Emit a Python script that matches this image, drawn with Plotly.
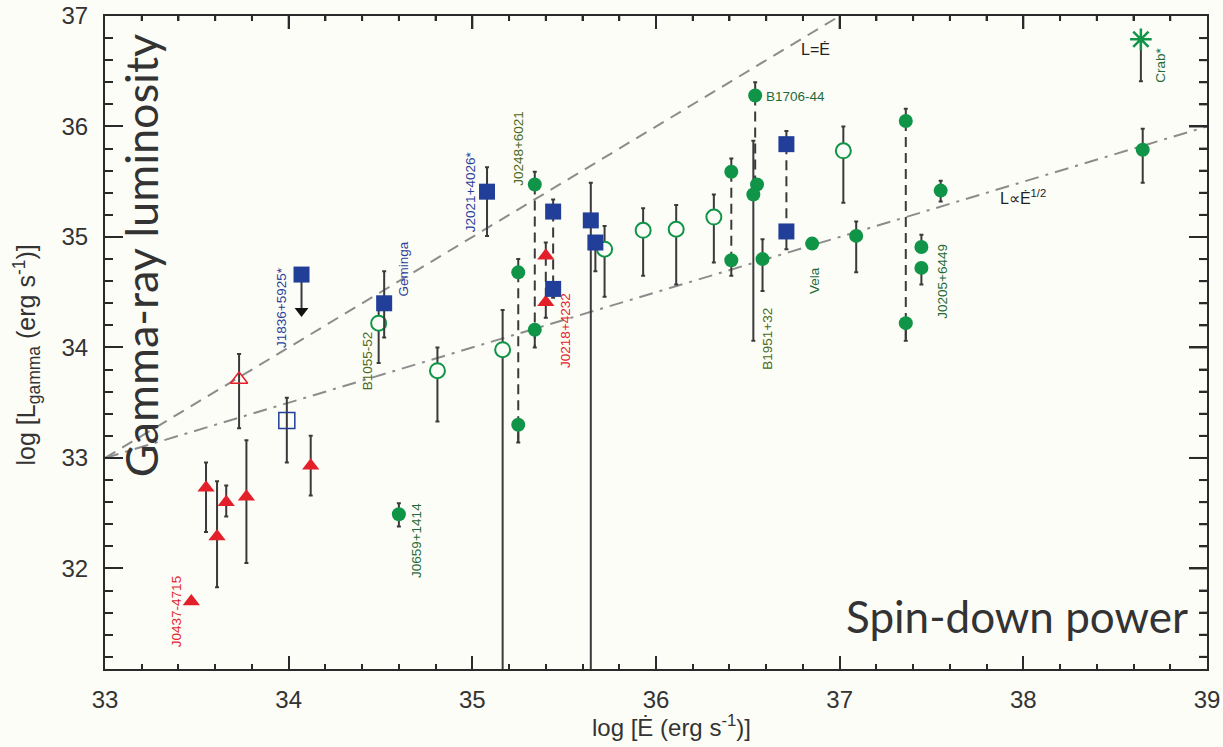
import plotly.graph_objects as go

# ---------------------------------------------------------------------------
# Data: log spin-down power (x), log gamma-ray luminosity (y),
# upper / lower ends of the uncertainty bars (None = no bar drawn)
# ---------------------------------------------------------------------------

# millisecond pulsars (filled red triangles)
msp_x = [33.47, 33.55, 33.61, 33.66, 33.77, 34.12, 35.40, 35.40]
msp_y = [31.70, 32.73, 32.29, 32.60, 32.65, 32.93, 34.83, 34.41]
msp_hi = [None, 32.96, 32.79, 32.75, 33.16, 33.20, 34.95, None]
msp_lo = [None, 32.33, 31.83, 32.47, 32.05, 32.66, None, 34.27]

# millisecond pulsar, open symbol
msp_open_x = [33.73]
msp_open_y = [33.71]
msp_open_hi = [33.94]
msp_open_lo = [33.27]

# radio-quiet pulsars (filled blue squares)
rq_x = [34.52, 35.08, 35.44, 35.44, 35.645, 35.67, 36.71, 36.71]
rq_y = [34.40, 35.41, 35.23, 34.53, 35.15, 34.95, 35.84, 35.05]
rq_hi = [34.69, 35.63, 35.34, None, 35.49, None, 35.96, None]
rq_lo = [34.09, 35.01, None, 34.45, 30.5, 34.69, None, 34.89]

# radio-quiet pulsar, open symbol
rq_open_x = [33.99]
rq_open_y = [33.34]
rq_open_hi = [33.545]
rq_open_lo = [32.96]

# radio-quiet upper limit (J1836+5925)
ul_x = [34.07]
ul_y = [34.66]
ul_to = [34.33]

# radio-loud pulsars (filled green circles)
rl_x = [34.60, 35.25, 35.25, 35.34, 35.34, 36.41, 36.41, 36.54, 36.55,
        36.53, 36.58, 36.85, 37.09, 37.36, 37.36, 37.445, 37.445, 37.55, 38.65]
rl_y = [32.49, 34.68, 33.30, 35.475, 34.16, 35.59, 34.79, 36.28, 35.475,
        35.385, 34.80, 34.94, 35.01, 36.05, 34.22, 34.91, 34.72, 35.42, 35.79]
rl_hi = [32.59, 34.80, None, 35.59, None, 35.71, None, 36.40, None,
         35.87, 34.98, None, 35.14, 36.16, None, 35.02, None, 35.51, 35.98]
rl_lo = [32.38, None, 33.14, None, 34.00, None, 34.65, None, None,
         34.06, 34.51, None, 34.68, None, 34.06, None, 34.57, 35.32, 35.49]

# radio-loud pulsars, open symbols
rl_open_x = [34.49, 34.81, 35.165, 35.72, 35.93, 36.11, 36.315, 37.02]
rl_open_y = [34.22, 33.79, 33.98, 34.89, 35.06, 35.07, 35.18, 35.78]
rl_open_hi = [34.45, 34.00, 34.34, 35.10, 35.26, 35.29, 35.385, 36.00]
rl_open_lo = [33.86, 33.33, 30.50, 34.46, 34.65, 34.57, 34.77, 35.31]

# Crab (pulsed + nebula), star symbol
crab_x = [38.64]
crab_y = [36.79]
crab_lo = [36.41]

# pairs of estimates for the same pulsar, joined by dashed lines
pair_x = [35.25, 35.34, 35.40, 35.44, 36.41, 36.54, 36.71, 37.36]
pair_top = [34.68, 35.475, 34.83, 35.23, 35.59, 36.28, 35.84, 36.05]
pair_bottom = [33.14, 34.00, 34.41, 34.53, 34.79, 35.40, 35.05, 34.06]

# reference relations
leq_x = [33.0, 37.0]          # L = Edot
leq_y = [33.0, 37.0]
lhalf_x = [33.0, 39.0]        # L ~ Edot^(1/2)
lhalf_y = [33.0, 36.0]

# pulsar names
label_text = ["J0437-4715", "J1836+5925*", "Geminga", "B1055-52", "J0659+1414",
              "J2021+4026*", "J0248+6021", "J0218+4232", "B1706-44", "B1951+32",
              "Vela", "J0205+6449", "Crab*"]
label_kind = ["msp", "rq", "rq", "rl2", "rl", "rq", "rl2", "msp", "rl", "rl2",
              "rl", "rl", "rl"]

# ---------------------------------------------------------------------------
# Styling
# ---------------------------------------------------------------------------
BG = "#fdfdf8"
RED = "#e3202a"
BLUE = "#213e98"
GREEN = "#109447"
BAR = "#3a3a3a"
AX = "#2a2a2a"
TXT = "#333333"
kind_color = {"msp": "#e3242b", "rq": "#2b3f9a", "rl": "#1f6b37", "rl2": "#4a6a20"}

W, H = 1223, 747
M_L, M_R, M_T, M_B = 105, 16, 16, 78
X_RANGE = [33, 39]
Y_RANGE = [31.09, 37]
MINOR_STEP = 0.2
X_MAJOR_LEN, Y_MAJOR_LEN = 13, 18    # px
X_MINOR_LEN, Y_MINOR_LEN = 5, 8      # px
TICK_W = 2

# label anchor positions in data units and rotation
label_pos = [(33.39, 31.61), (33.96, 34.36), (34.62, 34.71), (34.43, 33.88),
             (34.70, 32.25), (34.99, 35.41), (35.25, 35.80), (35.51, 34.15),
             (36.76, 36.27), (36.61, 34.08), (36.86, 34.61), (37.56, 34.60),
             (38.75, 36.55)]
label_angle = [-90, -90, -90, -90, -90, -90, -90, -90, 0, -90, -90, -90, -90]


def bars(y, hi, lo):
    plus = [(h - v) if h is not None else 0.0 for v, h in zip(y, hi)]
    minus = [(v - l) if l is not None else 0.0 for v, l in zip(y, lo)]
    return dict(type="data", symmetric=False, array=plus, arrayminus=minus,
                color=BAR, thickness=2, width=2)


fig = go.Figure()

# reference relations
fig.add_trace(go.Scatter(x=leq_x, y=leq_y, mode="lines",
                         line=dict(color="#8c8c8c", width=2, dash="12px,8px"),
                         hoverinfo="skip"))
fig.add_trace(go.Scatter(x=lhalf_x, y=lhalf_y, mode="lines",
                         line=dict(color="#8c8c8c", width=2, dash="14px,7px,3px,7px"),
                         hoverinfo="skip"))

# dashed connectors between paired estimates
cx, cy = [], []
for x, t, b in zip(pair_x, pair_top, pair_bottom):
    cx += [x, x, None]
    cy += [t, b, None]
fig.add_trace(go.Scatter(x=cx, y=cy, mode="lines",
                         line=dict(color=BAR, width=2, dash="10px,6px"),
                         hoverinfo="skip"))

# upper limit line + arrow head
fig.add_trace(go.Scatter(x=ul_x * 2, y=ul_y + ul_to, mode="lines",
                         line=dict(color=BAR, width=2), hoverinfo="skip"))
fig.add_trace(go.Scatter(x=ul_x, y=ul_to, mode="markers",
                         marker=dict(symbol="triangle-down", size=12, color="#111111"),
                         hoverinfo="skip"))

# Crab: star with downward bar
fig.add_trace(go.Scatter(x=crab_x, y=crab_y, mode="markers",
                         error_y=dict(type="data", symmetric=False, array=[0],
                                      arrayminus=[c - l for c, l in zip(crab_y, crab_lo)],
                                      color=BAR, thickness=2, width=2),
                         marker=dict(symbol="asterisk-open", size=18, color=GREEN,
                                     line=dict(color=GREEN, width=2.5))))

# open symbols
fig.add_trace(go.Scatter(x=rl_open_x, y=rl_open_y, mode="markers",
                         error_y=bars(rl_open_y, rl_open_hi, rl_open_lo),
                         marker=dict(symbol="circle", size=15, color=BG,
                                     line=dict(color=GREEN, width=2))))
fig.add_trace(go.Scatter(x=msp_open_x, y=msp_open_y, mode="markers",
                         error_y=bars(msp_open_y, msp_open_hi, msp_open_lo),
                         marker=dict(symbol="triangle-up-open", size=15, color=RED,
                                     line=dict(color=RED, width=1.5))))
fig.add_trace(go.Scatter(x=rq_open_x, y=rq_open_y, mode="markers",
                         error_y=bars(rq_open_y, rq_open_hi, rq_open_lo),
                         marker=dict(symbol="square-open", size=16, color=BLUE,
                                     line=dict(color=BLUE, width=1.5))))

# filled symbols
fig.add_trace(go.Scatter(x=rl_x, y=rl_y, mode="markers",
                         error_y=bars(rl_y, rl_hi, rl_lo),
                         marker=dict(symbol="circle", size=14, color=GREEN,
                                     line=dict(width=0))))
fig.add_trace(go.Scatter(x=msp_x, y=msp_y, mode="markers",
                         error_y=bars(msp_y, msp_hi, msp_lo),
                         marker=dict(symbol="triangle-up", size=15, color=RED,
                                     line=dict(width=0))))
fig.add_trace(go.Scatter(x=rq_x + ul_x, y=rq_y + ul_y, mode="markers",
                         error_y=bars(rq_y + ul_y, rq_hi + [None], rq_lo + [None]),
                         marker=dict(symbol="square", size=16, color=BLUE,
                                     line=dict(width=0))))

# tick marks along the top and right frame edges (major every 1, minor every 0.2)
x_per_px = (X_RANGE[1] - X_RANGE[0]) / (W - M_L - M_R)
y_per_px = (Y_RANGE[1] - Y_RANGE[0]) / (H - M_T - M_B)
tx, ty = [], []
n = 1
while X_RANGE[0] + n * MINOR_STEP < X_RANGE[1] - 1e-9:
    v = X_RANGE[0] + n * MINOR_STEP
    ln = X_MAJOR_LEN if n % 5 == 0 else X_MINOR_LEN
    tx += [v, v, None]
    ty += [Y_RANGE[1], Y_RANGE[1] - ln * y_per_px, None]
    n += 1
n = 1
while 31 + n * MINOR_STEP < Y_RANGE[1] - 1e-9:
    v = 31 + n * MINOR_STEP
    ln = Y_MAJOR_LEN if n % 5 == 0 else Y_MINOR_LEN
    if v > Y_RANGE[0]:
        tx += [X_RANGE[1], X_RANGE[1] - ln * x_per_px, None]
        ty += [v, v, None]
    n += 1
fig.add_trace(go.Scatter(x=tx, y=ty, mode="lines",
                         line=dict(color=AX, width=TICK_W), hoverinfo="skip",
                         cliponaxis=False))

annotations = []
for name, kind, (lx, ly), ang in zip(label_text, label_kind, label_pos, label_angle):
    annotations.append(dict(x=lx, y=ly, xref="x", yref="y", text=name,
                            textangle=ang, showarrow=False,
                            font=dict(family="Liberation Sans", size=13.5,
                                      color=kind_color[kind])))

# relation labels
annotations.append(dict(x=36.87, y=36.70, xref="x", yref="y", text="L=Ė",
                        showarrow=False,
                        font=dict(family="Liberation Sans", size=16, color="#222222")))
annotations.append(dict(x=38.0, y=35.36, xref="x", yref="y",
                        text="L∝Ė<sup>1/2</sup>", showarrow=False,
                        font=dict(family="Liberation Sans", size=16, color="#222222")))

# axis titles
annotations.append(dict(x=(671 - M_L) / (W - M_L - M_R), y=-0.088,
                        xref="paper", yref="paper",
                        text="log [Ė (erg s<sup>-1</sup>)]", showarrow=False,
                        xanchor="center", yanchor="middle",
                        font=dict(family="Liberation Sans", size=24, color=TXT)))
annotations.append(dict(x=(26 - M_L) / (W - M_L - M_R),
                        y=1 - (468 - M_T) / (H - M_T - M_B),
                        xref="paper", yref="paper",
                        text="log [L<sub>gamma</sub> (erg s<sup>-1</sup>)]",
                        textangle=-90, showarrow=False,
                        xanchor="center", yanchor="bottom",
                        font=dict(family="Liberation Sans", size=25, color=TXT)))

# large overlay captions
annotations.append(dict(x=33.2, y=32.81, xref="x", yref="y",
                        text="Gamma-ray luminosity", textangle=-90,
                        showarrow=False, yanchor="bottom",
                        font=dict(family="Lato", size=45, color="#333333")))
annotations.append(dict(x=38.906, y=31.57, xref="x", yref="y",
                        text="Spin-down power", xanchor="right",
                        showarrow=False,
                        font=dict(family="Lato", size=44, color="#333333")))

tick_font = dict(family="Liberation Sans", size=24, color=TXT)

fig.update_layout(
    width=W, height=H,
    margin=dict(l=M_L, r=M_R, t=M_T, b=M_B),
    paper_bgcolor=BG, plot_bgcolor=BG,
    showlegend=False,
    annotations=annotations,
    xaxis=dict(range=X_RANGE, tick0=33, dtick=1, ticklen=X_MAJOR_LEN, ticks="inside",
               tickcolor=AX, tickwidth=TICK_W,
               minor=dict(ticks="inside", ticklen=X_MINOR_LEN, dtick=MINOR_STEP,
                          tickcolor=AX, tickwidth=TICK_W),
               showline=True, linecolor=AX, linewidth=2, mirror="ticks",
               showgrid=False, zeroline=False, automargin=False,
               tickfont=tick_font, ticklabelstandoff=8),
    yaxis=dict(range=Y_RANGE, tick0=31, dtick=1, ticklen=Y_MAJOR_LEN, ticks="inside",
               tickcolor=AX, tickwidth=TICK_W,
               minor=dict(ticks="inside", ticklen=Y_MINOR_LEN, dtick=MINOR_STEP,
                          tickcolor=AX, tickwidth=TICK_W),
               showline=True, linecolor=AX, linewidth=2, mirror="ticks",
               showgrid=False, zeroline=False, automargin=False,
               tickfont=tick_font, ticklabelstandoff=10),
)

fig.write_html("out.html")
